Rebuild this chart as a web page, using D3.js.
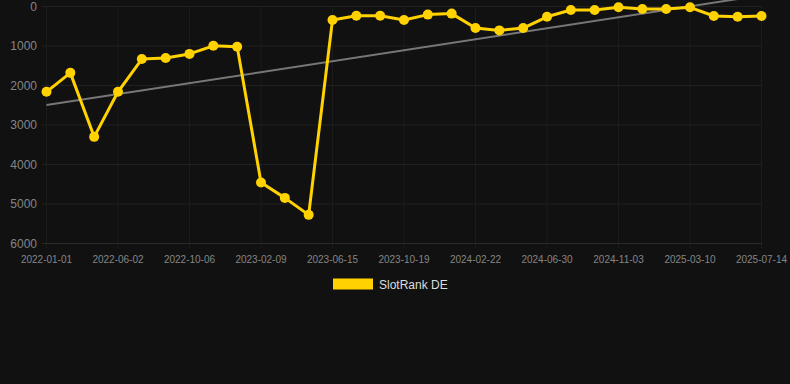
<!DOCTYPE html>
<html><head><meta charset="utf-8">
<script src="https://cdn.jsdelivr.net/npm/d3@7"></script>
<style>html,body{margin:0;padding:0;background:#111111;}svg{display:block;}</style>
</head><body>
<script>
const categories = ["2022-01-01","2022-02-20","2022-04-11","2022-06-02","2022-07-14","2022-08-25","2022-10-06","2022-11-17","2022-12-29","2023-02-09","2023-03-23","2023-05-04","2023-06-15","2023-07-27","2023-09-07","2023-10-19","2023-11-30","2024-01-11","2024-02-22","2024-04-04","2024-05-17","2024-06-30","2024-08-11","2024-09-22","2024-11-03","2024-12-15","2025-01-27","2025-03-10","2025-04-21","2025-06-02","2025-07-14"];
const rankValues = [2160,1680,3300,2160,1330,1305,1200,995,1020,4455,4845,5275,340,235,235,340,205,180,545,605,545,260,90,90,20,65,65,20,240,260,240];
const yTicks = [0,1000,2000,3000,4000,5000,6000];
const seriesName = "SlotRank DE";

const W = 790, H = 384;
const svg = d3.select("body").append("svg").attr("width", W).attr("height", H);
svg.append("rect").attr("width", W).attr("height", H).attr("fill", "#111111");

const x = d3.scalePoint().domain(categories).range([46.5, 761.5]);
const y = d3.scaleLinear().domain([0, 6000]).range([6.5, 243.5]);

// grid
const g = svg.append("g");
const labeled = categories.filter((c, i) => i % 3 === 0);
g.selectAll("line.v").data(labeled).join("line")
  .attr("x1", d => x(d)).attr("x2", d => x(d)).attr("y1", 6.5).attr("y2", 248)
  .attr("stroke", "#1b1b1b").attr("stroke-width", 1);
g.selectAll("line.h").data(yTicks).join("line")
  .attr("x1", 42).attr("x2", 762).attr("y1", d => y(d)).attr("y2", d => y(d))
  .attr("stroke", d => d === 6000 ? "#2a2a2a" : "#202020").attr("stroke-width", 1);

// y labels
svg.append("g").selectAll("text").data(yTicks).join("text")
  .attr("x", 37).attr("y", d => y(d)).attr("dy", "0.35em")
  .attr("text-anchor", "end").attr("fill", "#858585")
  .style("font-family", "Liberation Sans, Arial, sans-serif").style("font-size", "12px")
  .text(d => d);

// x labels
svg.append("g").selectAll("text").data(labeled).join("text")
  .attr("x", d => x(d)).attr("y", 259).attr("dy", "0.35em")
  .attr("text-anchor", "middle").attr("fill", "#858585")
  .style("font-family", "Liberation Sans, Arial, sans-serif").style("font-size", "10px")
  .text(d => d);

// regression trend
const n = rankValues.length;
const mi = (n - 1) / 2, mv = d3.mean(rankValues);
let sxy = 0, sxx = 0;
rankValues.forEach((v, i) => { sxy += (i - mi) * (v - mv); sxx += (i - mi) * (i - mi); });
const slope = sxy / sxx, icpt = mv - slope * mi;
const trend = [0, n - 1].map(i => [x(categories[i]), y(icpt + slope * i)]);
svg.append("line")
  .attr("x1", trend[0][0]).attr("y1", trend[0][1]).attr("x2", trend[1][0]).attr("y2", trend[1][1])
  .attr("stroke", "#777777").attr("stroke-width", 2);

// series line
const pts = categories.map((c, i) => [x(c), y(rankValues[i])]);
svg.append("path").attr("d", d3.line()(pts))
  .attr("fill", "none").attr("stroke", "#ffd200").attr("stroke-width", 3).attr("stroke-linejoin", "round");
svg.append("g").selectAll("circle").data(pts).join("circle")
  .attr("cx", d => d[0]).attr("cy", d => d[1]).attr("r", 5).attr("fill", "#ffd200");

// legend
svg.append("rect").attr("x", 333).attr("y", 278.5).attr("width", 40).attr("height", 11).attr("fill", "#ffd200");
svg.append("text").attr("x", 379).attr("y", 284.5).attr("dy", "0.35em")
  .attr("fill", "#dddddd").style("font-family", "Liberation Sans, Arial, sans-serif").style("font-size", "12px")
  .text(seriesName);
</script>
</body></html>
